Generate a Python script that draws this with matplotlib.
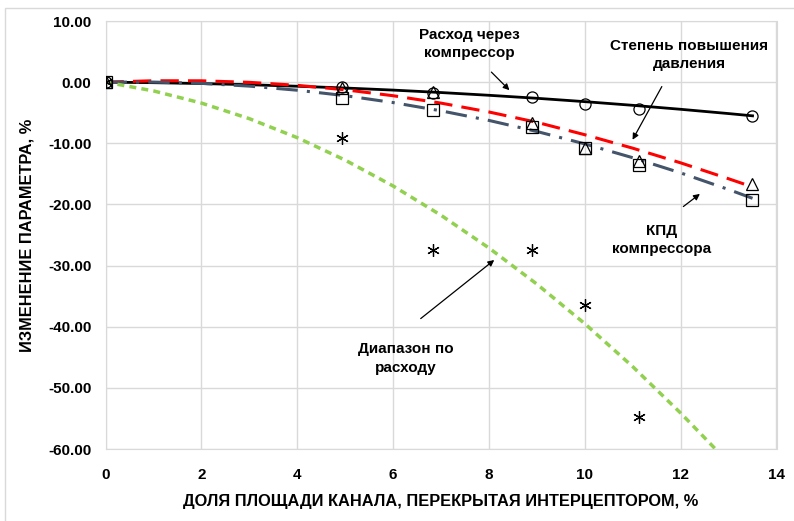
import matplotlib
matplotlib.use("Agg")
import matplotlib.pyplot as plt
from matplotlib.patches import Rectangle

plt.rcParams['font.family'] = ['Liberation Sans', 'DejaVu Sans']

# measured points
x_pts = [0, 4.94, 6.83, 8.9, 10.0, 11.14, 13.49]
flow = [0, -0.77, -1.7, -2.5, -3.65, -4.47, -5.5]          # Расход через компрессор (circles)
pressure = [0, -1.0, -1.6, -6.66, -10.7, -12.9, -16.6]     # Степень повышения давления (triangles)
efficiency = [0, -2.6, -4.6, -7.3, -10.85, -13.6, -19.2]   # КПД компрессора (squares)
x_range = [0, 4.94, 6.83, 8.9, 10.0, 11.14]
flow_range = [0, -9.1, -27.4, -27.4, -36.5, -54.7]         # Диапазон по расходу (asterisks)

# trend lines
x_tr = [0, 1, 2, 3, 4, 5, 6, 7, 8, 9, 10, 11, 12, 13, 13.5]
flow_tr = [0, -0.09, -0.23, -0.42, -0.67, -0.96, -1.30, -1.70, -2.15, -2.64, -3.19, -3.79, -4.44, -5.14, -5.51]
pressure_tr = [0, 0.23, 0.22, -0.03, -0.52, -1.25, -2.22, -3.43, -4.88, -6.57, -8.6, -10.8, -13.2, -15.8, -17.14]
eff_tr = [0, 0.01, -0.20, -0.65, -1.32, -2.21, -3.34, -4.69, -6.26, -8.07, -10.1, -12.36, -14.84, -17.56, -19.0]
x_tr_range = [0, 1, 2, 3, 4, 5, 6, 7, 8, 9, 10, 11, 12, 12.8]
range_tr = [0, -1.43, -3.42, -5.97, -9.08, -12.75, -16.98, -21.77, -27.12, -33.03, -39.5, -46.53, -54.12, -60.6]

xticks = [0, 2, 4, 6, 8, 10, 12, 14]
yticks = [10, 0, -10, -20, -30, -40, -50, -60]

W, H = 794, 521
fig = plt.figure(figsize=(W / 100, H / 100), dpi=100)
ax = fig.add_axes([105.5 / W, 1 - 449 / H, (776.5 - 105.5) / W, (449 - 21) / H])

fig.patches.append(Rectangle((5 / W, -0.1), 1.2, 1 - 8 / H + 0.1, transform=fig.transFigure,
                             fill=False, edgecolor='#d9d9d9', linewidth=1.0))

ax.plot(x_tr, flow_tr, color='black', lw=2.0, zorder=3)
ax.plot(x_tr, pressure_tr, color='#ff0000', lw=2.2, dashes=(6, 3), zorder=3)
ax.plot(x_tr, eff_tr, color='#44546a', lw=2.2, dashes=(7, 3, 1, 3), zorder=3)
ax.plot(x_tr_range, range_tr, color='#92d050', lw=2.5, dashes=(2, 1.5), zorder=3)

mk = dict(linestyle='none', markerfacecolor='none', markeredgecolor='black', markeredgewidth=0.9, zorder=4)
ax.plot(x_pts, flow, marker='o', markersize=8, **mk)
ax.plot(x_pts, pressure, marker='^', markersize=8.5, **mk)
ax.plot(x_pts, efficiency, marker='s', markersize=8, **mk)
ax.plot(x_range, flow_range, marker=(6, 2, 0), markersize=9, linestyle='none',
        color='black', markeredgewidth=0.9, zorder=4)

ax.set_xlim(0, 14)
ax.set_ylim(-60, 10)
ax.set_xticks(xticks)
ax.set_yticks(yticks)
ax.set_yticklabels([f"{v:.2f}" for v in yticks])
ax.grid(True, color='#d9d9d9', linewidth=1.0, zorder=0)
ax.set_axisbelow(True)
for s in ax.spines.values():
    s.set_color('#d9d9d9')
ax.tick_params(length=0, labelsize=11, pad=10)
for lab in ax.get_xticklabels() + ax.get_yticklabels():
    lab.set_fontweight('bold')
ax.tick_params(axis='x', pad=14)

ax.set_xlabel("ДОЛЯ ПЛОЩАДИ КАНАЛА, ПЕРЕКРЫТАЯ ИНТЕРЦЕПТОРОМ, %", fontsize=11.8, fontweight='bold', labelpad=8)
ax.set_ylabel("ИЗМЕНЕНИЕ ПАРАМЕТРА, %", fontsize=11.8, fontweight='bold', labelpad=10)

def px(xp, yp):
    return ((xp - 105.5) / 48.0, -(yp - 82.0) / 6.11)

arrow = dict(arrowstyle='-|>', color='black', lw=0.9, mutation_scale=9)
tk = dict(fontsize=11, fontweight='bold', ha='center', va='center', linespacing=1.4)

ax.text(*px(470, 44), "Расход через\nкомпрессор", **tk)
ax.annotate("", xy=px(512, 92), xytext=px(490, 70), arrowprops=arrow)

ax.text(*px(690, 55), "Степень повышения\nдавления", **tk)
ax.annotate("", xy=px(632, 142), xytext=px(664, 84), arrowprops=arrow)

ax.text(*px(662, 240), "КПД\nкомпрессора", **tk)
ax.annotate("", xy=px(703, 192), xytext=px(682, 208), arrowprops=arrow)

ax.text(*px(406, 358), "Диапазон по\nрасходу", **tk)
ax.annotate("", xy=px(497, 258), xytext=px(419, 320), arrowprops=arrow)

fig.savefig("out.png", dpi=100)
